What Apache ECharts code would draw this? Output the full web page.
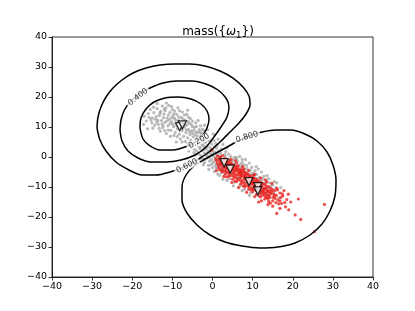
<!DOCTYPE html>
<html>
<head>
<meta charset="utf-8">
<script src="https://cdn.jsdelivr.net/npm/echarts@6/dist/echarts.min.js"></script>
<style>
html,body{margin:0;padding:0;background:#fff;}
#chart{width:415px;height:311px;}
</style>
</head>
<body>
<div id="chart"></div>
<script>
// ---------- data ----------
const axisTicks = [-40, -30, -20, -10, 0, 10, 20, 30, 40];

const grayPoints = [
[-15.8,13.2],[-15.1,11.4],[-14.6,14.8],[-14.2,12.6],[-13.8,16.1],[-13.5,10.9],[-13.2,13.9],[-12.9,15.2],[-12.7,12.1],[-12.4,9.8],
[-12.1,14.3],[-11.9,11.5],[-11.6,16.4],[-11.3,13.0],[-11.1,10.4],[-10.8,12.4],[-10.6,14.9],[-10.4,8.9],[-10.2,11.7],[-9.9,13.6],
[-9.7,10.1],[-9.5,12.9],[-9.3,8.2],[-9.1,11.0],[-8.9,14.2],[-8.7,9.4],[-8.5,12.1],[-8.3,7.6],[-8.0,10.6],[-7.8,13.1],
[-7.6,8.8],[-7.4,11.5],[-7.2,6.9],[-7.0,9.9],[-6.8,12.2],[-6.6,8.1],[-6.4,10.7],[-6.2,6.4],[-6.0,9.2],[-5.8,11.3],
[-5.6,7.5],[-5.4,5.6],[-5.2,8.7],[-5.0,10.1],[-4.8,6.8],[-16.5,12.0],[-14.9,9.6],[-13.0,8.6],[-11.5,7.8],[-12.5,17.0],
[-10.0,15.8],[-8.2,15.4],[-7.0,14.0],[-6.0,13.3],[-15.5,15.8],[-17.2,10.9],
[-14.0,13.5],[-13.6,12.2],[-13.1,14.7],[-12.6,11.0],[-12.2,13.1],[-11.8,15.4],[-11.4,12.0],[-11.0,14.0],[-10.6,11.1],[-10.3,13.0],
[-9.9,10.9],[-9.6,14.4],[-9.2,12.3],[-8.8,10.3],[-8.4,13.3],[-8.1,11.4],[-7.7,9.6],[-7.3,12.6],[-6.9,10.8],[-6.5,9.0],
[-6.1,11.8],[-5.7,8.4],[-5.3,10.9],[-4.9,7.9],[-4.5,9.9],[-4.1,8.3],[-3.7,6.9],[-3.3,9.1],[-9.6,7.2],[-8.0,6.0],
[-6.8,5.2],[-11.0,9.0],[-12.3,10.4],[-13.9,11.6],[-15.0,13.0],[-10.2,16.8],[-8.6,16.4],[-11.5,18.0],[-13.8,17.8],[-5.5,12.8],
[-4.2,11.4],[-3.0,10.4],[-2.2,8.8],[-2.8,7.9],
[-16.0,14.5],[-15.3,12.3],[-14.4,10.6],[-14.7,16.6],[-13.3,9.6],[-12.0,16.0],[-10.9,17.2],[-9.4,15.3],[-7.5,15.0],[-6.4,14.2],
[-5.0,12.0],[-4.0,10.2],[-3.1,8.4],[-2.5,9.3],[-1.7,7.8],[-1.0,7.0],[-0.3,6.2],[0.4,5.5],[1.2,4.0],[2.2,2.6],
[3.3,1.8],[4.5,0.2],[5.9,-0.1],[7.4,-0.8],[9.2,-2.0],[10.9,-3.2],[12.2,-5.0],[14.0,-7.2],[15.4,-8.2],[-6.2,4.4],
[-5.3,3.0],[-4.3,0.6],[-3.2,-0.7],[-2.0,-1.9],[-1.0,-2.8],[0.0,-3.5],[0.5,-4.8],[1.3,-5.6],[-8.8,6.8],[-10.5,6.9],
[-7.6,5.0],[-11.9,8.8],[-9.0,5.0],[-5.9,2.0],[-2.3,-2.6],[-0.9,-4.1],[-6.2,15.6],[-3.6,12.2],[-2.0,10.6],[-1.2,9.0],
[0.2,7.6],[1.4,6.0],[2.6,4.2],[3.6,3.0],[-17.0,13.6],[-16.2,9.4],
[-4.6,9.0],[-4.4,4.9],[-4.2,7.4],[-4.0,6.1],[-3.8,3.8],[-3.6,8.2],[-3.4,5.4],[-3.2,2.9],[-3.0,6.8],[-2.8,4.5],
[-2.6,2.1],[-2.4,5.9],[-2.2,3.6],[-2.0,1.3],[-1.8,4.8],[-1.6,2.7],[-1.4,0.6],[-1.2,3.9],[-1.0,1.9],[-0.8,-0.1],
[-0.6,3.1],[-0.4,1.1],[-0.2,-0.8],[0.0,2.4],[0.2,0.3],[0.4,-1.5],[0.6,1.6],[0.8,-0.5],[1.0,-2.3],[1.2,0.9],
[1.4,-1.2],[1.6,-3.0],[1.8,0.2],[2.0,-1.9],[2.2,-3.6],[2.4,-0.6],[2.6,-2.6],[2.8,-4.3],[3.0,-1.2],[3.2,-3.3],
[3.4,-5.0],[3.6,-1.9],[3.8,-3.9],[4.0,-0.9],[-3.9,2.0],[-2.9,0.5],[-1.9,-0.9],[-5.0,3.8],[-4.5,2.6],[0.5,3.5],
[-1.0,5.5],[-2.0,7.0],[1.5,2.0],[-0.3,-2.5],[0.9,-3.8],
[-3.6,4.6],[-3.1,3.3],[-2.5,4.1],[-2.1,2.5],[-1.5,3.3],[-1.1,1.4],[-0.5,2.2],[-0.1,0.6],[0.3,1.5],[0.7,-0.2],
[1.1,0.4],[1.5,-0.8],[1.9,-0.3],[2.3,-1.5],[2.7,-0.9],[3.1,-2.2],[3.5,-1.3],[3.9,-2.9],[-1.3,-0.3],[-0.7,-1.4],
[0.1,-2.0],[0.7,-2.9],[1.3,-3.5],[2.0,-4.4],[-2.5,-0.5],[-3.5,1.0],[-4.6,1.5],[-0.2,4.3],[1.0,3.0],[2.0,1.3],
[3.0,0.8],[-1.6,6.2],[-0.4,5.2],[0.8,4.5],
[4.4,-2.5],[4.8,-1.5],[5.2,-3.2],[5.6,-2.1],[6.0,-4.0],[6.4,-2.8],[6.8,-4.8],[7.2,-3.4],[7.6,-5.5],[8.0,-4.2],
[8.4,-6.1],[8.8,-5.0],[9.2,-6.8],[9.6,-5.6],[10.0,-7.4],[10.4,-6.3],[10.8,-8.0],[11.2,-7.1],[11.6,-8.7],[12.0,-7.8],
[12.6,-9.4],[13.2,-8.6],[13.8,-10.5],[14.5,-9.8],[3.0,-6.0],[4.2,-7.2],[5.5,-8.4],[6.8,-9.6],[8.0,-10.8],[9.5,-11.9],
[11.0,-12.6],[2.2,-5.2],[5.0,-5.5],[7.0,-7.0],[9.0,-8.8],[10.8,-10.2],[12.5,-11.5],[15.2,-11.6],[6.0,-0.5],[8.5,-2.8],
[10.6,-4.6],[12.8,-6.4],[3.2,0.2],[5.4,-0.2],[7.4,-1.8],[9.8,-3.4],
[5.0,-1.0],[6.2,-1.4],[7.0,-2.4],[7.8,-2.6],[8.6,-3.9],[9.4,-4.4],[10.2,-5.4],[11.0,-5.8],[11.8,-6.8],[12.6,-7.4],
[13.4,-8.0],[14.2,-8.6],[15.0,-9.4],[4.0,1.0],[6.8,0.2],[8.2,-0.8],[11.4,-4.0],[13.6,-6.2],[16.0,-8.6],[1.8,-6.2],
[3.6,-7.8],[5.2,-9.6],[7.4,-11.2],[9.2,-12.8],[12.0,-12.0],[14.0,-13.2],[4.5,-5.0],[6.3,-6.6],[8.2,-8.2],[10.0,-9.8],
[11.8,-11.2],[13.5,-12.4],[15.8,-10.4],[17.0,-10.2],[16.6,-13.6],[2.6,-7.4]
];

const redPoints = [
[0.8,-0.6],[1.2,-2.0],[1.6,-0.9],[2.0,-2.8],[2.3,-1.4],[2.7,-3.4],[3.0,-2.1],[3.4,-0.8],[3.5,-4.0],[3.9,-2.7],
[4.2,-4.8],[4.5,-1.9],[4.7,-3.6],[5.0,-5.4],[5.3,-2.9],[5.6,-4.4],[5.9,-6.1],[6.2,-3.5],[6.5,-5.2],[6.8,-6.9],
[7.1,-4.3],[7.4,-6.0],[7.7,-7.6],[8.0,-5.1],[8.3,-6.8],[8.6,-8.4],[8.9,-5.8],[9.2,-7.5],[9.5,-9.1],[9.8,-6.6],
[10.1,-8.3],[10.4,-9.9],[10.7,-7.3],[11.0,-9.0],[11.3,-10.6],[11.6,-8.1],[11.9,-9.8],[12.2,-11.3],[12.5,-8.8],[12.8,-10.5],
[13.1,-12.1],[13.4,-9.6],[13.7,-11.2],[14.0,-12.8],[14.4,-10.4],[14.7,-12.0],[15.1,-13.5],[15.5,-11.2],[15.9,-12.8],[16.3,-14.3],
[1.5,-3.5],[2.5,-5.0],[3.2,-5.6],[4.0,-6.5],[5.0,-7.4],[6.0,-8.2],[7.0,-9.0],[8.0,-9.9],[9.0,-10.8],[10.0,-11.6],
[11.0,-12.4],[12.0,-13.3],[13.0,-14.0],[14.0,-14.8],[3.0,-0.5],[4.6,-0.8],[6.0,-2.0],[7.5,-3.2],[9.0,-4.5],[10.5,-5.8],
[12.0,-7.0],[13.5,-8.3],[2.0,0.0],[1.0,-4.5],[2.8,-6.5],[4.8,-8.5],[6.5,-10.2],[8.5,-11.8],[10.5,-13.2],[12.2,-14.6],
[2.2,-1.0],[3.6,-1.6],[4.3,-3.0],[5.1,-4.0],[5.8,-3.0],[6.6,-4.5],[7.3,-5.4],[8.1,-6.3],[8.8,-7.1],[9.6,-8.0],
[10.3,-8.8],[11.1,-9.5],[11.8,-10.4],[12.6,-11.4],[13.3,-10.3],[14.2,-11.6],[3.3,-2.5],[6.9,-5.8],[9.9,-7.4],[16.8,-12.0],
[17.2,-15.5],[17.8,-11.2],[18.9,-12.4],[16.0,-18.8],[16.8,-17.1],[15.0,-16.4],[14.8,-8.8],[16.0,-10.4],[21.4,-14.0],[20.6,-19.3],
[22.0,-20.8],[27.9,-15.8],[25.4,-24.9],[18.2,-16.6],[19.5,-15.0],[13.8,-15.9],[11.5,-15.0],[-0.2,2.3],[17.0,-13.5],[15.8,-15.2],
[18.5,-14.2],
[1.0,-1.2],[1.4,-2.6],[1.9,-1.8],[2.4,-3.9],[2.6,-2.2],[3.1,-3.0],[3.7,-3.3],[4.1,-1.2],[4.4,-4.0],[4.9,-2.4],
[5.4,-4.9],[5.8,-3.8],[6.3,-5.8],[6.7,-4.0],[7.2,-6.5],[7.6,-4.7],[8.1,-7.3],[8.5,-5.6],[9.0,-8.0],[9.4,-6.3],
[9.9,-8.7],[10.3,-7.0],[10.8,-9.4],[11.2,-7.7],[11.7,-10.0],[12.1,-8.5],[12.6,-10.8],[13.0,-9.1],[13.5,-11.6],[13.9,-9.9],
[14.4,-12.4],[14.9,-10.8],[15.4,-12.9],[1.8,-4.2],[2.9,-4.6],[3.8,-5.3],[4.6,-6.2],[5.5,-6.8],[6.4,-7.6],[7.3,-8.4],
[8.2,-9.2],[9.1,-10.0],[10.0,-10.6],[10.9,-11.2],[11.8,-12.0],[12.7,-12.8],[13.6,-13.5],[15.0,-14.6],[16.5,-15.6],[2.5,0.5],
[1.3,0.3],[5.7,-1.2],[7.8,-3.9],[10.2,-6.0],[13.2,-7.6],[17.5,-13.0],[19.0,-17.6],[14.4,-15.4],
[1.7,-0.4],[2.1,-2.3],[2.8,-1.2],[3.3,-3.7],[3.6,-2.0],[4.0,-3.6],[4.5,-2.8],[4.9,-4.4],[5.2,-3.3],[5.6,-5.6],
[6.0,-4.6],[6.4,-3.0],[6.8,-5.0],[7.0,-6.1],[7.5,-4.4],[7.9,-6.7],[8.3,-5.3],[8.7,-7.6],[9.1,-6.4],[9.5,-8.4],
[9.9,-7.2],[10.3,-9.3],[10.7,-8.1],[11.1,-10.2],[11.5,-9.0],[11.9,-11.0],[12.3,-9.7],[12.7,-11.8],[13.1,-10.7],[13.5,-12.6],
[13.9,-11.4],[14.3,-13.5],[14.7,-11.3],[15.3,-12.4],[2.3,-4.6],[3.4,-4.8],[4.2,-5.8],[5.2,-6.3],[6.1,-7.1],[7.0,-7.8],
[7.8,-8.6],[8.7,-9.6],[9.6,-10.4],[10.4,-10.9],[11.4,-11.8],[12.3,-12.4],[13.2,-13.3],[4.0,-2.0],[5.0,-3.2],[6.0,-4.0],
[7.0,-5.2],[8.0,-6.0],[9.0,-7.0],[10.0,-8.0],[11.0,-8.6],[12.0,-9.6],[13.0,-10.6],[14.0,-11.6],[3.5,-6.6],[5.6,-8.0],
[7.6,-9.6],[9.7,-11.0],[11.6,-13.0],[13.8,-13.9],[15.6,-13.8],[16.8,-14.6],[17.4,-12.3],[16.2,-11.0],[18.0,-15.2]
];

const prototypes = [[-8.2,10.1],[-7.5,10.7],[2.9,-1.9],[4.4,-4.0],[9.1,-8.2],[11.3,-9.9],[11.3,-11.3]];

// contour level 0.200 (inner loop around the grey cluster)
const contour020 = [
[-18.07,9.67],[-17.82,13.0],[-16.57,16.0],[-14.58,18.33],[-11.84,19.67],[-8.6,20.0],[-5.36,19.33],[-2.87,17.67],
[-1.37,15.33],[-0.87,12.67],[-1.37,9.67],[-2.62,7.0],[-4.36,5.0],[-6.85,3.33],[-9.84,2.33],[-13.08,2.33],
[-15.58,3.67],[-17.32,6.0],[-18.07,9.67]
];
// contour level 0.400
const contour040 = [
[-23.05,9.0],[-22.8,12.33],[-22.06,15.33],[-20.56,18.33],[-18.32,21.0],[-15.58,23.0],[-12.34,24.67],[-8.85,25.33],
[-5.11,25.33],[-1.62,24.33],[1.37,22.33],[3.36,19.67],[4.11,16.67],[3.61,13.33],[2.12,10.0],[0.37,6.67],
[-1.62,3.33],[-4.36,0.67],[-7.85,-1.0],[-11.59,-1.67],[-15.33,-1.67],[-18.57,-0.33],[-21.06,2.0],[-22.55,5.33],
[-23.05,9.0]
];
// contour level 0.600
const contour060 = [
[-28.79,9.67],[-28.54,13.33],[-27.79,16.67],[-26.54,20.0],[-24.8,23.0],[-22.55,25.67],[-19.81,28.0],[-16.57,29.67],
[-13.08,30.67],[-9.35,31.0],[-5.61,31.0],[-1.87,30.33],[1.87,28.67],[5.11,26.33],[7.6,23.33],[9.1,20.33],
[9.35,17.33],[8.35,14.33],[6.6,11.33],[4.36,8.33],[1.87,5.0],[-0.87,1.67],[-3.86,-1.0],[-7.1,-3.33],
[-10.59,-5.0],[-14.08,-6.0],[-17.57,-6.0],[-20.81,-4.33],[-24.05,-1.67],[-26.54,2.0],[-28.04,5.67],[-28.79,9.67]
];
// contour level 0.800 (loop around the red cluster)
const contour080 = [
[5.86,5.0],[9.1,7.0],[12.34,8.33],[15.83,9.0],[19.56,9.0],[23.05,7.67],[26.04,5.33],[28.54,1.67],
[30.03,-2.67],[30.78,-7.67],[30.53,-13.0],[29.28,-18.0],[27.29,-22.33],[24.3,-26.0],[20.56,-28.67],[16.32,-30.0],
[11.84,-30.33],[7.35,-29.67],[3.12,-28.33],[-0.62,-26.0],[-3.86,-22.67],[-6.36,-18.67],[-7.6,-14.33],[-7.6,-10.0],
[-6.6,-6.0],[-4.61,-3.0],[-1.87,-0.67],[1.87,2.0],[5.86,5.0]
];

const contourLevels = ['0.200', '0.400', '0.600', '0.800'];
const contourLines = [contour020, contour040, contour060, contour080];
// inline contour labels: [x, y, text, angle]
const contourLabels = [
[-18.57,20.0,'0.400',38],
[-3.36,5.33,'0.200',30],
[-6.36,-3.0,'0.600',27],
[8.6,6.67,'0.800',16]
];

// ---------- chart ----------
const FONT = 'DejaVu Sans';
const chart = echarts.init(document.getElementById('chart'), null, {renderer: 'canvas'});
const minus = v => String(v).replace('-', '\u2212');

const axisCommon = {
  type: 'value', min: -40, max: 40, interval: 10,
  splitLine: {show: false},
  axisLine: {show: true, onZero: false, lineStyle: {color: '#000', width: 0.8}},
  axisTick: {show: true, inside: false, length: 3.5, lineStyle: {color: '#000', width: 0.8}},
  axisLabel: {color: '#000', fontSize: 9.5, fontFamily: FONT, formatter: minus, margin: 5}
};

const series = [];
series.push({
  type: 'scatter', data: grayPoints, symbol: 'circle', symbolSize: 3.2,
  itemStyle: {color: '#a6a6a6'}, z: 2, silent: true
});
series.push({
  type: 'scatter', data: redPoints, symbol: 'circle', symbolSize: 3.2,
  itemStyle: {color: '#e8231f'}, z: 3, silent: true
});
contourLines.forEach((pts, i) => {
  series.push({
    type: 'line', name: contourLevels[i], data: pts, showSymbol: false, symbol: 'none',
    smooth: 0.3, lineStyle: {color: '#000', width: 1.5}, z: 4, silent: true
  });
});
series.push({
  type: 'scatter', z: 5, silent: true, symbol: 'circle', symbolSize: 2,
  itemStyle: {color: 'rgba(255,255,255,0)'},
  data: contourLabels.map(l => ({
    value: [l[0], l[1]],
    label: {show: true, position: 'inside', formatter: l[2], rotate: l[3],
      fontSize: 8, fontFamily: FONT, color: '#000',
      backgroundColor: '#fff', padding: [0, 2]}
  }))
});
series.push({
  type: 'scatter', data: prototypes, symbol: 'triangle', symbolRotate: 180, symbolSize: 8,
  itemStyle: {color: '#fff', borderColor: '#000', borderWidth: 1.3}, z: 6, silent: true
});

chart.setOption({
  animation: false,
  backgroundColor: '#fff',
  title: {
    text: 'mass({{w|ω}{s|1}})',
    left: 213, top: 19, textAlign: 'center',
    textStyle: {
      fontSize: 12, fontWeight: 'normal', fontFamily: FONT, color: '#000',
      rich: {
        w: {fontSize: 12, fontStyle: 'italic', fontFamily: FONT, color: '#000'},
        s: {fontSize: 8.5, fontFamily: FONT, color: '#000', verticalAlign: 'bottom', padding: [7, 0, 0, 0]}
      }
    }
  },
  grid: {left: 52, right: 42, top: 37, bottom: 34, show: true, borderColor: '#000', borderWidth: 0.8, backgroundColor: 'transparent'},
  xAxis: Object.assign({}, axisCommon, {position: 'bottom'}),
  yAxis: Object.assign({}, axisCommon, {position: 'left'}),
  series: series
});
</script>
</body>
</html>
